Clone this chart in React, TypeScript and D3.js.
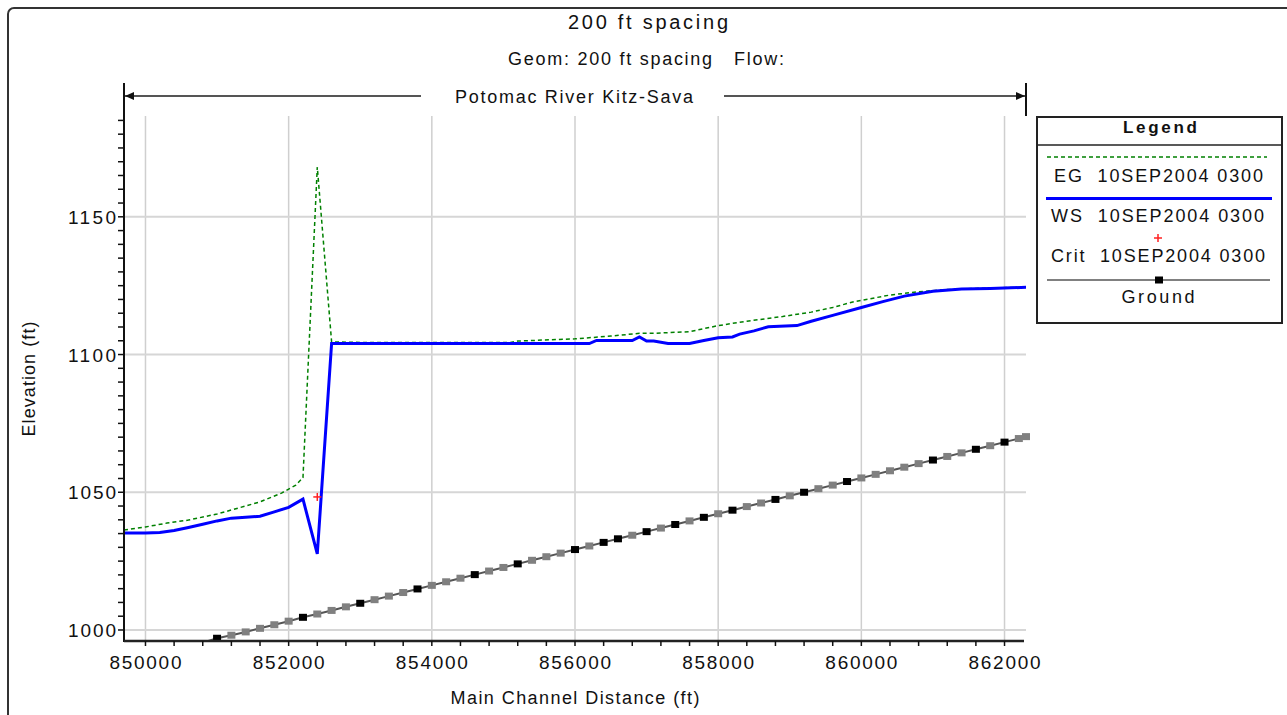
import React from "react";
import * as d3 from "d3";

// ---------- data ----------
const xTickValues = [850000, 852000, 854000, 856000, 858000, 860000, 862000];
const yTickValues = [1000, 1050, 1100, 1150];

const wsStations = [849700, 850000, 850200, 850400, 850600, 850800, 851000, 851200, 851400, 851600, 851800, 852000, 852200, 852400, 852600, 853000, 854000, 855000, 856200, 856300, 856800, 856900, 857000, 857100, 857300, 857600, 857800, 858000, 858200, 858300, 858500, 858700, 859100, 859300, 859600, 860000, 860300, 860600, 861000, 861400, 861800, 862300];
const wsValues = [1035.2, 1035.2, 1035.4, 1036.1, 1037.2, 1038.4, 1039.6, 1040.6, 1040.9, 1041.3, 1042.9, 1044.5, 1047.5, 1027.6, 1104.0, 1104.0, 1104.0, 1104.0, 1104.0, 1105.1, 1105.1, 1106.4, 1104.9, 1104.9, 1104.0, 1104.0, 1105.1, 1106.1, 1106.4, 1107.4, 1108.6, 1110.1, 1110.5, 1112.1, 1114.2, 1117.1, 1119.2, 1121.2, 1123.0, 1123.8, 1124.0, 1124.4];

const egStations = [849700, 850000, 850300, 850600, 851000, 851300, 851600, 851900, 852100, 852200, 852400, 852600, 853000, 854000, 855100, 855200, 856000, 856500, 856900, 857100, 857600, 858000, 858400, 858900, 859300, 859600, 859900, 860400, 860800, 861200, 861600, 862300];
const egValues = [1036.3, 1037.4, 1038.8, 1039.9, 1042.1, 1044.3, 1046.5, 1049.7, 1052.6, 1055.3, 1168.1, 1104.6, 1104.4, 1104.4, 1104.4, 1104.9, 1105.7, 1106.7, 1107.7, 1107.7, 1108.3, 1110.5, 1112.1, 1113.8, 1115.4, 1117.1, 1119.2, 1121.6, 1122.8, 1123.6, 1124.0, 1124.5];

const critStations = [852400];
const critValues = [1048.3];

const groundStations = [849700, 849800, 850000, 850200, 850400, 850600, 850800, 851000, 851200, 851400, 851600, 851800, 852000, 852200, 852400, 852600, 852800, 853000, 853200, 853400, 853600, 853800, 854000, 854200, 854400, 854600, 854800, 855000, 855200, 855400, 855600, 855800, 856000, 856200, 856400, 856600, 856800, 857000, 857200, 857400, 857600, 857800, 858000, 858200, 858400, 858600, 858800, 859000, 859200, 859400, 859600, 859800, 860000, 860200, 860400, 860600, 860800, 861000, 861200, 861400, 861600, 861800, 862000, 862200, 862300];
const groundValues = [988.2, 988.9, 990.2, 991.5, 992.8, 994.1, 995.4, 997.0, 998.1, 999.3, 1000.6, 1001.9, 1003.2, 1004.6, 1005.8, 1007.1, 1008.4, 1009.7, 1011.0, 1012.3, 1013.6, 1014.9, 1016.2, 1017.5, 1018.8, 1020.1, 1021.4, 1022.7, 1024.0, 1025.3, 1026.6, 1027.9, 1029.2, 1030.5, 1031.8, 1033.1, 1034.4, 1035.7, 1037.0, 1038.3, 1039.6, 1040.9, 1042.2, 1043.5, 1044.8, 1046.1, 1047.4, 1048.7, 1050.0, 1051.3, 1052.6, 1053.9, 1055.2, 1056.5, 1057.8, 1059.1, 1060.4, 1061.7, 1063.0, 1064.3, 1065.6, 1066.9, 1068.2, 1069.5, 1070.2];
const groundRealStations = [851000, 852200, 853000, 853800, 854600, 855200, 856000, 856400, 856600, 857000, 857400, 857800, 858200, 858800, 859200, 859800, 861000, 861600, 862000];

const titleText = "200 ft spacing";
const subtitleText = "Geom: 200 ft spacing   Flow:";
const reachText = "Potomac River Kitz-Sava";
const xAxisTitle = "Main Channel Distance (ft)";
const yAxisTitle = "Elevation (ft)";
const legendLabels = ["EG  10SEP2004 0300", "WS  10SEP2004 0300", "Crit  10SEP2004 0300", "Ground"];

const FONT = "'Liberation Sans', Arial, Helvetica, sans-serif";

export default function App() {
  const W = 1287, H = 715;
  const left = 124, right = 1026, top = 116, bottom = 641;
  const x = d3.scaleLinear().domain([849700, 862300]).range([left, right]);
  const y = d3.scaleLinear().domain([996, 1186.6]).range([bottom, top]);

  const line = d3.line<[number, number]>().x(d => x(d[0])).y(d => y(d[1]));
  const wsData: [number, number][] = wsStations.map((s, i) => [s, wsValues[i]]);
  const egData: [number, number][] = egStations.map((s, i) => [s, egValues[i]]);
  const gData: [number, number][] = groundStations.map((s, i) => [s, groundValues[i]]);

  const xMinor = d3.range(850000, 862001, 400);
  const yMinor = d3.range(1000, 1186, 5);

  const txt = { fontFamily: FONT, fill: "#111" } as const;

  return (
    <svg width={W} height={H} style={{ position: "absolute", left: 0, top: 0, background: "#fff" }}>
      <defs>
        <clipPath id="plotClip">
          <rect x={left} y={top - 2} width={right - left + 4} height={bottom - top + 1} />
        </clipPath>
      </defs>
      {/* outer frame */}
      <rect x={8} y={8} width={1310} height={730} rx={6} fill="none" stroke="#333" strokeWidth={2} />

      {/* titles */}
      <text x={648} y={29} textAnchor="middle" fontSize={20} textLength={160} lengthAdjust="spacing" style={txt}>{titleText}</text>
      <text x={646} y={65} textAnchor="middle" fontSize={18} textLength={276} lengthAdjust="spacing" style={{ ...txt, whiteSpace: "pre" }}>{subtitleText}</text>

      {/* reach arrow */}
      <line x1={left} x2={421} y1={96} y2={96} stroke="#555" strokeWidth={2} />
      <line x1={724} x2={right} y1={96} y2={96} stroke="#555" strokeWidth={2} />
      <path d={`M${left + 1},96 L${left + 10},92 L${left + 10},100 Z`} fill="#111" />
      <path d={`M${right - 1},96 L${right - 10},92 L${right - 10},100 Z`} fill="#111" />
      <line x1={right} x2={right} y1={83} y2={top} stroke="#111" strokeWidth={2} />
      <text x={574} y={103} textAnchor="middle" fontSize={18} textLength={238} lengthAdjust="spacing" style={txt}>{reachText}</text>

      {/* grid */}
      {xTickValues.map(v => (
        <line key={"gx" + v} x1={x(v)} x2={x(v)} y1={top} y2={bottom} stroke="#cfcfcf" strokeWidth={1.5} />
      ))}
      {yTickValues.map(v => (
        <line key={"gy" + v} x1={left} x2={right} y1={y(v)} y2={y(v)} stroke="#d6d6d6" strokeWidth={2} />
      ))}

      {/* data */}
      <g clipPath="url(#plotClip)">
        <path d={line(gData) || ""} fill="none" stroke="#555" strokeWidth={2} />
        {gData.filter(d => d[1] >= 996).map(d => (
          <rect key={"gm" + d[0]} x={x(d[0]) - 4} y={y(d[1]) - 3.5} width={8} height={7}
            fill={groundRealStations.includes(d[0]) ? "#000" : "#808080"} />
        ))}
        <path d={line(egData) || ""} fill="none" stroke="#008000" strokeWidth={1.5} strokeDasharray="4,3" />
        <path d={line(wsData) || ""} fill="none" stroke="#0000ff" strokeWidth={3} strokeLinejoin="miter" />
        {critStations.map((s, i) => (
          <g key={"c" + s} stroke="#ff2020" strokeWidth={1.5}>
            <line x1={x(s) - 4} x2={x(s) + 4} y1={y(critValues[i])} y2={y(critValues[i])} />
            <line x1={x(s)} x2={x(s)} y1={y(critValues[i]) - 4} y2={y(critValues[i]) + 4} />
          </g>
        ))}
      </g>

      {/* axes */}
      <line x1={left} x2={left} y1={83} y2={bottom + 1} stroke="#111" strokeWidth={2} />
      <line x1={left} x2={right - 2} y1={bottom} y2={bottom} stroke="#222" strokeWidth={2.5} />
      {yMinor.map(v => (
        <line key={"ym" + v} x1={left - 6} x2={left} y1={y(v)} y2={y(v)} stroke="#111" strokeWidth={1.5} />
      ))}
      {xMinor.map(v => (
        <line key={"xm" + v} x1={x(v)} x2={x(v)} y1={bottom} y2={bottom + 5} stroke="#111" strokeWidth={1.5} />
      ))}
      {yTickValues.map(v => (
        <text key={"yl" + v} x={68} y={y(v) + 7} fontSize={19} textLength={48} lengthAdjust="spacing" style={txt}>{v}</text>
      ))}
      {xTickValues.map(v => (
        <text key={"xl" + v} x={x(v)} y={669} textAnchor="middle" fontSize={19} textLength={72} lengthAdjust="spacing" style={txt}>{v}</text>
      ))}
      <text x={575} y={704} textAnchor="middle" fontSize={18} textLength={249} lengthAdjust="spacing" style={txt}>{xAxisTitle}</text>
      <text transform="translate(35,379) rotate(-90)" textAnchor="middle" fontSize={18} textLength={115} lengthAdjust="spacing" style={txt}>{yAxisTitle}</text>

      {/* legend */}
      <rect x={1037} y={117} width={245} height={206} fill="#fff" stroke="#222" strokeWidth={2} />
      <line x1={1037} x2={1282} y1={145} y2={145} stroke="#222" strokeWidth={1.5} />
      <text x={1160} y={133} textAnchor="middle" fontSize={17} fontWeight="bold" textLength={74} lengthAdjust="spacing" style={txt}>Legend</text>
      <line x1={1047} x2={1267} y1={157} y2={157} stroke="#008000" strokeWidth={1.5} strokeDasharray="4,3" />
      <text x={1054} y={182} fontSize={18} textLength={209} lengthAdjust="spacing" style={{ ...txt, whiteSpace: "pre" }}>{legendLabels[0]}</text>
      <line x1={1046} x2={1272} y1={198.5} y2={198.5} stroke="#0000ff" strokeWidth={3} />
      <text x={1051} y={222} fontSize={18} textLength={213} lengthAdjust="spacing" style={{ ...txt, whiteSpace: "pre" }}>{legendLabels[1]}</text>
      <g stroke="#ff2020" strokeWidth={1.5}>
        <line x1={1154} x2={1162} y1={238} y2={238} />
        <line x1={1158} x2={1158} y1={234} y2={242} />
      </g>
      <text x={1051} y={262} fontSize={18} textLength={214} lengthAdjust="spacing" style={{ ...txt, whiteSpace: "pre" }}>{legendLabels[2]}</text>
      <line x1={1047} x2={1270} y1={280} y2={280} stroke="#808080" strokeWidth={2} />
      <rect x={1155} y={276.5} width={8} height={7} fill="#000" />
      <text x={1158} y={303} textAnchor="middle" fontSize={18} textLength={73} lengthAdjust="spacing" style={txt}>{legendLabels[3]}</text>
    </svg>
  );
}
